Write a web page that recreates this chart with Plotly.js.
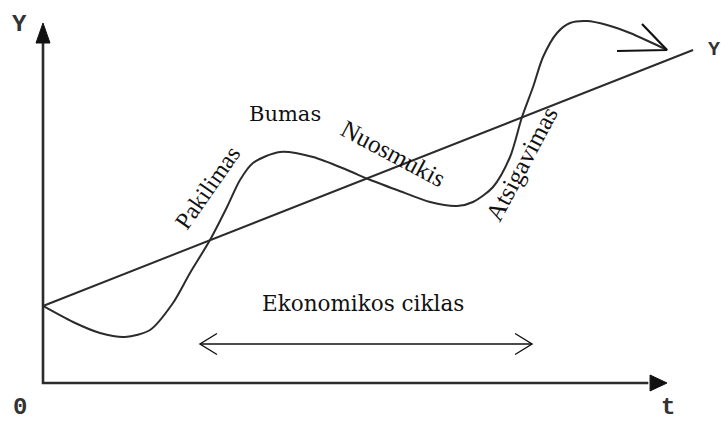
<!DOCTYPE html>
<html>
<head>
<meta charset="utf-8">
<script src="https://cdn.plot.ly/plotly-3.0.1.min.js"></script>
<style>html,body{margin:0;padding:0;background:#fff;}#chart{width:721px;height:422px;}</style>
</head>
<body>
<div id="chart"></div>
<script>
// Economic cycle curve (t = time, Y = output)
const cycleT = [0, 0.481, 0.913, 1.314, 1.715, 2.083, 2.356, 2.676, 2.949, 3.157, 3.365, 3.798, 4.327, 4.872, 5.208, 5.673, 6.202, 6.635, 6.891, 7.212, 7.484, 7.676, 7.853, 8.013, 8.237, 8.446, 8.718, 9.038, 9.407, 9.728, 10.0];
const cycleY = [2.151, 1.704, 1.397, 1.285, 1.480, 2.235, 3.073, 3.994, 4.916, 5.670, 6.145, 6.453, 6.313, 5.950, 5.698, 5.391, 5.056, 4.944, 5.056, 5.475, 6.313, 7.430, 8.268, 9.106, 9.777, 10.056, 10.112, 10.000, 9.777, 9.525, 9.302];
// Long-run trend line
const trendT = [0, 10.417];
const trendY = [2.151, 9.302];
// Economic cycle span (double arrow)
const cycleSpanT = [2.516, 7.837];
const cycleSpanY = 1.089;
// Phase labels
const phaseLabels = ["Pakilimas", "Bumas", "Nuosmukis", "Atsigavimas"];
const phaseT = [2.644, 3.878, 5.609, 7.660];
const phaseY = [5.475, 7.514, 6.397, 6.117];
const phaseAngle = [-55, 0, 28, -62];
const spanLabel = "Ekonomikos ciklas";
const axisLabels = ["Y", "0", "t", "Y"];
const axisLabelT = [-0.369, -0.369, 10.016, 10.75];
const axisLabelY = [10.0, null, null, 9.302];

const axisTopY = 10.056, axisEndT = 10.0;
const lineCol = '#2b2b2b';

const traces = [];
// axes
traces.push({x:[0,0,9.7], y:[9.5,0,0], mode:'lines', line:{color:lineCol,width:2.6}, hoverinfo:'skip'});
traces.push({x:[-0.112,0,0.112,-0.112], y:[9.497,axisTopY,9.497,9.497], mode:'lines', fill:'toself', fillcolor:'#111', line:{color:'#111',width:1}, hoverinfo:'skip'});
traces.push({x:[9.728,axisEndT,9.728,9.728], y:[0.223,0,-0.223,0.223], mode:'lines', fill:'toself', fillcolor:'#111', line:{color:'#111',width:1}, hoverinfo:'skip'});
// trend
traces.push({x:trendT, y:trendY, mode:'lines', line:{color:lineCol,width:2}, hoverinfo:'skip'});
// cycle curve
traces.push({x:cycleT, y:cycleY, mode:'lines', line:{color:lineCol,width:2,shape:'spline',smoothing:0.8}, hoverinfo:'skip'});
// curve arrowhead (open)
const n = cycleT.length-1;
traces.push({x:[9.599, cycleT[n], 9.199], y:[10.028, cycleY[n], 9.274], mode:'lines', line:{color:'#111',width:2.2}, hoverinfo:'skip'});
// double arrow
const dT = 0.272, dY = 0.293;
traces.push({x:cycleSpanT, y:[cycleSpanY,cycleSpanY], mode:'lines', line:{color:'#111',width:1.6}, hoverinfo:'skip'});
traces.push({x:[cycleSpanT[0]+dT, cycleSpanT[0], cycleSpanT[0]+dT], y:[cycleSpanY+dY, cycleSpanY, cycleSpanY-dY], mode:'lines', line:{color:'#111',width:1.4}, hoverinfo:'skip'});
traces.push({x:[cycleSpanT[1]-dT, cycleSpanT[1], cycleSpanT[1]-dT], y:[cycleSpanY+dY, cycleSpanY, cycleSpanY-dY], mode:'lines', line:{color:'#111',width:1.4}, hoverinfo:'skip'});

const annotations = [];
const phaseSize = [24, 21, 25, 25];
phaseLabels.forEach((s,i)=>{
  const isBum = s === "Bumas";
  annotations.push({x:phaseT[i], y:phaseY[i], xref:'x', yref:'y', text:s, showarrow:false,
    textangle:phaseAngle[i], xanchor:'center', yanchor:'middle',
    font:{family: isBum ? 'DejaVu Serif' : 'Liberation Serif', size: phaseSize[i], color:'#111'}});
});
annotations.push({x:(cycleSpanT[0]+cycleSpanT[1])/2 - 0.05, y:2.234, xref:'x', yref:'y', text:spanLabel, showarrow:false,
  xanchor:'center', yanchor:'middle', font:{family:'DejaVu Serif', size:21.5, color:'#111'}});
const axisSize = [24, 24, 24, 20];
axisLabels.forEach((s,i)=>{
  const bottom = axisLabelY[i] === null;
  annotations.push({x:axisLabelT[i], y: bottom ? 0 : axisLabelY[i], xref:'x', yref: bottom ? 'paper' : 'y', text:s, showarrow:false,
    xanchor:'center', yanchor: bottom ? 'bottom' : 'middle', borderpad:0,
    font:{family:'Liberation Mono', size: axisSize[i], color:'#333', weight:'bold'}});
});

const layout = {
  width:721, height:422, margin:{l:0,r:0,t:0,b:0},
  paper_bgcolor:'#fff', plot_bgcolor:'#fff', showlegend:false,
  xaxis:{range:[-0.6891, 10.865], visible:false, fixedrange:true},
  yaxis:{range:[-1.0894, 10.698], visible:false, fixedrange:true},
  annotations:annotations
};
Plotly.newPlot('chart', traces, layout, {staticPlot:true, displayModeBar:false});
</script>
</body>
</html>
